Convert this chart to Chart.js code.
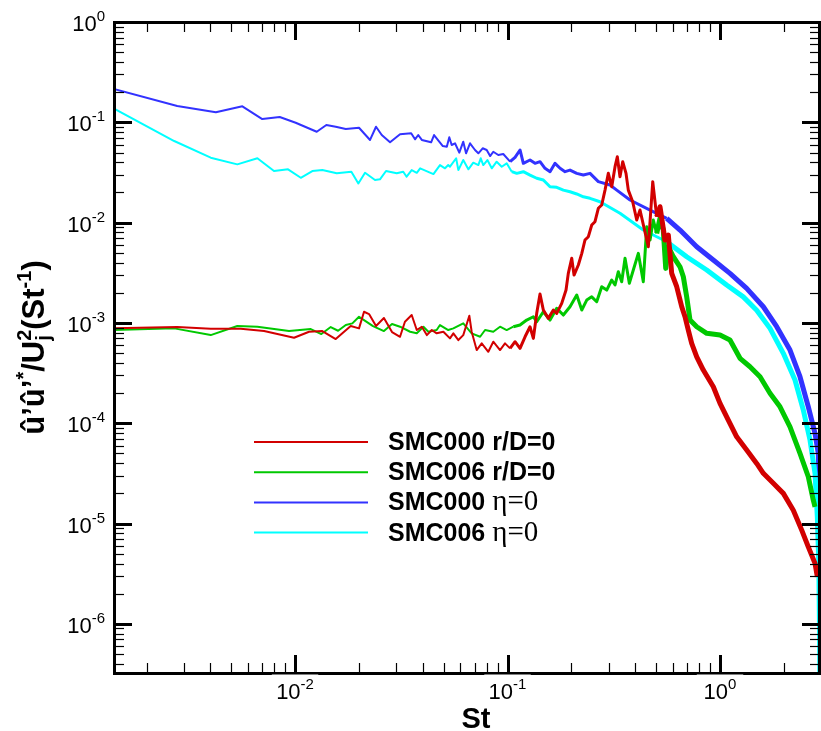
<!DOCTYPE html>
<html>
<head>
<meta charset="utf-8">
<script src="https://cdn.jsdelivr.net/npm/chart.js@4.4.1/dist/chart.umd.min.js"></script>
<style>
  html, body { margin: 0; padding: 0; background: #fff; }
  #caixa { width: 821px; height: 731px; position: relative; }
</style>
</head>
<body>
<div id="caixa"><canvas id="grafico"></canvas></div>
<script>
const fonteSans = '"Liberation Sans", Arial, Helvetica, sans-serif';
const fonteSerif = '"Liberation Serif", "Times New Roman", serif';

// limites dos eixos (log)
const xMin = 1.406e-3, xMax = 2.955;
const yMin = 3.24e-7, yMax = 1;
const decadasX = [-2, -1, 0];
const decadasY = [0, -1, -2, -3, -4, -5, -6];

const rotulos = ['SMC000 r/D=0', 'SMC006 r/D=0', 'SMC000 η=0', 'SMC006 η=0'];
const cores = ['#d20000', '#00c800', '#3232ff', '#00ffff'];

// SMC000 r/D=0
const stVermelho = [0.0014, 0.00279, 0.00401, 0.00555, 0.00715, 0.00989, 0.01164, 0.01344, 0.01554, 0.01828,
  0.0200, 0.02112, 0.0223, 0.02405, 0.0262, 0.0286, 0.0312, 0.0329, 0.0354, 0.0374,
  0.0395, 0.0417, 0.0440, 0.0464, 0.0499, 0.0536, 0.0556, 0.0587, 0.0619, 0.0661,
  0.0678, 0.0716, 0.0756, 0.0812, 0.0857, 0.0922, 0.0973, 0.1028, 0.1085, 0.1145,
  0.1209, 0.1276, 0.1323, 0.1372, 0.1422, 0.1474, 0.1556, 0.1643, 0.1704, 0.1799,
  0.1885, 0.1932, 0.2005, 0.2056, 0.2154, 0.2236, 0.2315, 0.2401, 0.2490, 0.2580,
  0.2675, 0.2775, 0.2876, 0.2981, 0.3093, 0.3206, 0.3286, 0.3383, 0.3484, 0.3611,
  0.3702, 0.3882, 0.4055, 0.4203, 0.4599, 0.4824, 0.5036, 0.5220, 0.5510, 0.5711,
  0.5925, 0.6255, 0.6605, 0.6843, 0.7092, 0.7358, 0.777, 0.8344, 0.930, 1.0,
  1.094, 1.198, 1.335, 1.488, 1.599, 1.782, 1.986, 2.213, 2.424, 2.603, 2.80, 2.871];
const valVermelho = [0.000883, 0.00091, 0.000875, 0.000875, 0.00083, 0.000712, 0.000817, 0.00083, 0.000691, 0.000931,
  0.000883, 0.001294, 0.001227, 0.000931, 0.001119, 0.000811, 0.000728, 0.001028, 0.001199, 0.00085,
  0.000917, 0.000757, 0.00085, 0.000788, 0.000817, 0.000702, 0.000788, 0.000675, 0.000757, 0.00118,
  0.000817, 0.000537, 0.000626, 0.000516, 0.00065, 0.000537, 0.000626, 0.000558, 0.00065, 0.000558,
  0.000728, 0.000917, 0.000702, 0.001247, 0.00194, 0.001345, 0.001111, 0.001345, 0.001247, 0.001568,
  0.002128, 0.00312, 0.00441, 0.0030, 0.00378, 0.00494, 0.00671, 0.00724, 0.00946, 0.01021,
  0.0139, 0.01498, 0.0211, 0.0310, 0.0228, 0.0361, 0.0454, 0.0287, 0.0405, 0.0310,
  0.0211, 0.01616, 0.01062, 0.01335, 0.00575, 0.0256, 0.01145, 0.0144, 0.00671, 0.00752,
  0.00312, 0.002296, 0.00145, 0.001153, 0.00085, 0.000626, 0.00046, 0.000339, 0.000231, 0.000158,
  0.0001076, 7.33e-5, 5.41e-5, 3.98e-5, 3.17e-5, 2.52e-5, 2.0e-5, 1.36e-5, 8.61e-6, 5.87e-6, 4.01e-6, 2.95e-6];

// SMC006 r/D=0
const stVerde = [0.0014, 0.0027, 0.00401, 0.00535, 0.00665, 0.00937, 0.01186, 0.0133, 0.01472, 0.01594,
  0.01733, 0.01861, 0.0200, 0.02112, 0.02328, 0.0262, 0.0286, 0.0312, 0.0348, 0.0374,
  0.0402, 0.0424, 0.0464, 0.0481, 0.0526, 0.0556, 0.0619, 0.0678, 0.0743, 0.0784,
  0.0857, 0.0922, 0.0991, 0.1065, 0.1145, 0.1231, 0.1323, 0.1372, 0.1474, 0.1585,
  0.1704, 0.1831, 0.1968, 0.2117, 0.2236, 0.2359, 0.2490, 0.2628, 0.2775, 0.2930,
  0.3093, 0.3206, 0.3322, 0.3446, 0.3573, 0.3743, 0.3908, 0.4126, 0.4355, 0.4519,
  0.4685, 0.4853, 0.5036, 0.5220, 0.5408, 0.5553, 0.5711, 0.6030, 0.6482, 0.6720,
  0.6970, 0.7225, 0.777, 0.866, 1.0, 1.114, 1.242, 1.384, 1.543, 1.719,
  1.916, 2.135, 2.379, 2.603, 2.748, 2.80];
const valVerde = [0.00085, 0.000883, 0.000757, 0.000931, 0.000917, 0.00083, 0.000869, 0.000775, 0.00091, 0.000836,
  0.000953, 0.000991, 0.001153, 0.001069, 0.000931, 0.00083, 0.000975, 0.000917, 0.000817, 0.000788,
  0.000917, 0.000817, 0.00085, 0.000953, 0.00085, 0.000883, 0.000991, 0.000788, 0.000728, 0.00085,
  0.000817, 0.000917, 0.00085, 0.000917, 0.000953, 0.001069, 0.001153, 0.001028, 0.001294, 0.001069,
  0.001399, 0.001199, 0.00145, 0.0019, 0.001345, 0.00169, 0.00182, 0.001626, 0.002296, 0.002128,
  0.002679, 0.00239, 0.00324, 0.002575, 0.00441, 0.002483, 0.00337, 0.00494, 0.002575, 0.0091,
  0.00671, 0.01062, 0.00782, 0.01104, 0.00844, 0.0035, 0.00575, 0.00457, 0.00363, 0.00289,
  0.00182, 0.001069, 0.000917, 0.000788, 0.000757, 0.000675, 0.000444, 0.000366, 0.000291, 0.000199,
  0.000146, 9.23e-5, 5.01e-5, 2.93e-5, 1.71e-5, 1.47e-5];

// SMC000 eta=0
const stAzul = [0.0014, 0.00279, 0.00424, 0.00565, 0.00701, 0.00847, 0.01007, 0.01265, 0.01404, 0.01554,
  0.01733, 0.0200, 0.02254, 0.02405, 0.02559, 0.0280, 0.0312, 0.0352, 0.0367, 0.0380,
  0.0395, 0.0437, 0.0451, 0.0496, 0.0518, 0.0532, 0.0546, 0.0566, 0.0593, 0.0619,
  0.0638, 0.0666, 0.0703, 0.0729, 0.0764, 0.0798, 0.0828, 0.0857, 0.0905, 0.0955,
  0.1028, 0.1085, 0.1145, 0.1187, 0.1276, 0.1347, 0.1422, 0.1501, 0.1585, 0.1673,
  0.1767, 0.1865, 0.1968, 0.2117, 0.2274, 0.2445, 0.2675, 0.3036, 0.3266, 0.3771,
  0.4685, 0.5613, 0.6482, 0.777, 0.930, 1.114, 1.335, 1.599, 1.849, 2.135,
  2.379, 2.603, 2.80, 2.90, 2.95];
const valAzul = [0.215, 0.1454, 0.1259, 0.1444, 0.1078, 0.1129, 0.0991, 0.0806, 0.0940, 0.0904,
  0.0858, 0.0883, 0.0667, 0.0904, 0.0747, 0.0632, 0.0759, 0.0777, 0.0677, 0.0747,
  0.0667, 0.0632, 0.0747, 0.0580, 0.0571, 0.0709, 0.0594, 0.0618, 0.0498, 0.0641,
  0.0491, 0.0618, 0.0530, 0.0491, 0.0551, 0.0530, 0.0461, 0.0509, 0.0472, 0.0483,
  0.0405, 0.0448, 0.0530, 0.0390, 0.0421, 0.0390, 0.0405, 0.0348, 0.0322, 0.0390,
  0.0348, 0.0322, 0.0334, 0.0310, 0.0298, 0.0310, 0.0256, 0.0237, 0.0211, 0.0168,
  0.01335, 0.01104, 0.00844, 0.00575, 0.00424, 0.00312, 0.00221, 0.00145, 0.000917, 0.000537,
  0.000291, 0.000146, 7.93e-5, 5.01e-5, 1.71e-5];

// SMC006 eta=0
const stCiano = [0.0014, 0.0027, 0.00401, 0.00535, 0.00665, 0.00796, 0.00927, 0.01064, 0.01206, 0.01344,
  0.01571, 0.01841, 0.01986, 0.02135, 0.02379, 0.0251, 0.0268, 0.0301, 0.0323, 0.0335,
  0.0354, 0.0374, 0.0388, 0.0448, 0.0481, 0.0508, 0.0526, 0.0536, 0.0573, 0.0587,
  0.0619, 0.0654, 0.0690, 0.0729, 0.0748, 0.0769, 0.0804, 0.0843, 0.0889, 0.0939,
  0.0991, 0.1047, 0.1105, 0.1187, 0.1276, 0.1372, 0.1474, 0.1585, 0.1704, 0.1831,
  0.1968, 0.2117, 0.2274, 0.2445, 0.2724, 0.3383, 0.4355, 0.5613, 0.6970, 0.866,
  1.075, 1.287, 1.488, 1.719, 1.986, 2.254, 2.466, 2.652, 2.80, 2.871,
  2.92, 2.94, 2.95];
const valCiano = [0.1379, 0.0651, 0.0444, 0.0381, 0.0438, 0.0327, 0.0340, 0.0280, 0.0327, 0.0334,
  0.0310, 0.0322, 0.0246, 0.0314, 0.0266, 0.0270, 0.0327, 0.0310, 0.0322, 0.0287,
  0.0334, 0.0314, 0.0348, 0.0305, 0.0375, 0.0348, 0.0375, 0.0361, 0.0438, 0.0334,
  0.0421, 0.0340, 0.0396, 0.0375, 0.0438, 0.0375, 0.0421, 0.0348, 0.0405, 0.0361,
  0.0390, 0.0322, 0.0310, 0.0322, 0.0298, 0.0277, 0.0266, 0.0228, 0.0225, 0.0211,
  0.0203, 0.0193, 0.0181, 0.01747, 0.01616, 0.01239, 0.00844, 0.00645, 0.00457, 0.00337,
  0.00239, 0.00182, 0.00134, 0.000883, 0.000498, 0.00027, 0.0001355, 6.8e-5, 3.17e-5, 1.17e-5,
  3.71e-6, 8.1e-7, 2.75e-7];

// espessura maior onde o espectro fica denso
function espessura(ctx) {
  const st = ctx.p0.parsed.x;
  if (st < 0.1) return 2;
  if (st < 0.5) return 3;
  return 5;
}

function serie(i, st, val, ordem) {
  return {
    label: rotulos[i],
    data: st.map((s, k) => ({ x: s, y: val[k] })),
    borderColor: cores[i],
    borderWidth: 2,
    borderJoinStyle: 'round',
    pointRadius: 0,
    tension: 0,
    order: ordem,
    segment: { borderWidth: espessura }
  };
}

function traco(ctx, x1, y1, x2, y2) {
  ctx.beginPath();
  ctx.moveTo(x1, y1);
  ctx.lineTo(x2, y2);
  ctx.stroke();
}

// desenha pedaços de texto com sobrescrito/subscrito
function textoRico(ctx, partes, x, y, alinhar) {
  let total = 0, pend = 0;
  partes.forEach(p => {
    ctx.font = p.f;
    const w = ctx.measureText(p.t).width;
    if (p.junto) { pend = w; return; }
    total += Math.max(w, pend);
    pend = 0;
  });
  let cx = alinhar === 'center' ? x - total / 2 : alinhar === 'right' ? x - total : x;
  pend = 0;
  ctx.textAlign = 'left';
  ctx.textBaseline = 'alphabetic';
  partes.forEach(p => {
    ctx.font = p.f;
    const w = ctx.measureText(p.t).width;
    ctx.fillText(p.t, cx, y + (p.dy || 0));
    if (p.junto) { pend = w; return; }
    cx += Math.max(w, pend);
    pend = 0;
  });
  return total;
}

function potencia(exp) {
  return [
    { t: '10', f: '22px ' + fonteSans, dy: 0 },
    { t: String(exp), f: '15px ' + fonteSans, dy: -10 }
  ];
}

const pluginEixos = {
  id: 'eixos',
  afterDatasetsDraw(chart) {
    const { ctx, chartArea: a } = chart;
    const sx = chart.scales.x, sy = chart.scales.y;
    ctx.save();
    ctx.strokeStyle = '#000';
    ctx.fillStyle = '#000';
    ctx.lineCap = 'butt';

    // marcas do eixo x (em cima e embaixo)
    for (let d = -4; d <= 1; d++) {
      for (let m = 1; m <= 9; m++) {
        const v = m * Math.pow(10, d);
        if (v < xMin || v > xMax) continue;
        const px = Math.round(sx.getPixelForValue(v)) + 0.5;
        const maior = m === 1;
        ctx.lineWidth = maior ? 3 : 1.2;
        const len = maior ? 18 : 10;
        traco(ctx, px, a.bottom, px, a.bottom - len);
        traco(ctx, px, a.top, px, a.top + len);
      }
    }
    // marcas do eixo y (esquerda e direita)
    for (let d = -8; d <= 0; d++) {
      for (let m = 1; m <= 9; m++) {
        const v = m * Math.pow(10, d);
        if (v < yMin || v > yMax) continue;
        const py = Math.round(sy.getPixelForValue(v)) + 0.5;
        const maior = m === 1;
        ctx.lineWidth = maior ? 3 : 1.2;
        const len = maior ? 18 : 10;
        traco(ctx, a.left, py, a.left + len, py);
        traco(ctx, a.right, py, a.right - len, py);
      }
    }

    // moldura
    ctx.lineWidth = 3;
    ctx.strokeRect(a.left + 0.5, a.top + 0.5, a.right - a.left - 1, a.bottom - a.top);

    // rótulos do eixo x
    decadasX.forEach(d => {
      const px = sx.getPixelForValue(Math.pow(10, d));
      const partes = potencia(d);
      ctx.fillStyle = '#fff';
      ctx.font = partes[0].f;
      const w = ctx.measureText('10').width + 16;
      ctx.fillRect(px - w / 2 - 3, a.bottom + 1.5, w + 6, 2);
      ctx.fillStyle = '#000';
      textoRico(ctx, partes, px, a.bottom + 26, 'center');
    });

    // rótulos do eixo y
    decadasY.forEach(d => {
      const py = sy.getPixelForValue(Math.pow(10, d));
      textoRico(ctx, potencia(d), 105, py + 9, 'right');
    });

    // título do eixo x
    ctx.font = 'bold 29px ' + fonteSans;
    ctx.textAlign = 'center';
    ctx.textBaseline = 'alphabetic';
    ctx.fillText('St', (a.left + a.right) / 2 + 9, 728);

    // título do eixo y
    const fb = 'bold 31px ' + fonteSans, fp = 'bold 20px ' + fonteSans;
    ctx.save();
    ctx.translate(44, (a.top + a.bottom) / 2);
    ctx.rotate(-Math.PI / 2);
    textoRico(ctx, [
      { t: 'û’û’', f: fb },
      { t: '*', f: fp, dy: -14 },
      { t: '/U', f: fb },
      { t: 'j', f: fp, dy: 6, junto: true },
      { t: '2', f: fp, dy: -13 },
      { t: '(St', f: fb },
      { t: '-1', f: fp, dy: -13 },
      { t: ')', f: fb }
    ], 0, 0, 'center');
    ctx.restore();

    // legenda
    chart.data.datasets.forEach((ds, i) => {
      const yl = 442 + i * 30.2;
      ctx.strokeStyle = ds.borderColor;
      ctx.lineWidth = 2;
      traco(ctx, 254, yl, 368, yl);
      ctx.fillStyle = '#000';
      const [nome, cond] = ds.label.split(' ');
      if (cond.includes('η')) {
        textoRico(ctx, [
          { t: nome + ' ', f: 'bold 25px ' + fonteSans },
          { t: cond, f: '29px ' + fonteSerif }
        ], 388, yl + 8, 'left');
      } else {
        textoRico(ctx, [{ t: ds.label, f: 'bold 25px ' + fonteSans }], 388, yl + 8, 'left');
      }
    });
    ctx.restore();
  }
};

new Chart(document.getElementById('grafico'), {
  type: 'line',
  data: {
    datasets: [
      serie(0, stVermelho, valVermelho, 1),
      serie(1, stVerde, valVerde, 2),
      serie(2, stAzul, valAzul, 4),
      serie(3, stCiano, valCiano, 3)
    ]
  },
  options: {
    responsive: true,
    maintainAspectRatio: false,
    animation: false,
    layout: { padding: { left: 114, top: 22, right: 1, bottom: 58 } },
    plugins: { legend: { display: false }, tooltip: { enabled: false } },
    scales: {
      x: { type: 'logarithmic', min: xMin, max: xMax, display: false },
      y: { type: 'logarithmic', min: yMin, max: yMax, display: false }
    }
  },
  plugins: [pluginEixos]
});
</script>
</body>
</html>
